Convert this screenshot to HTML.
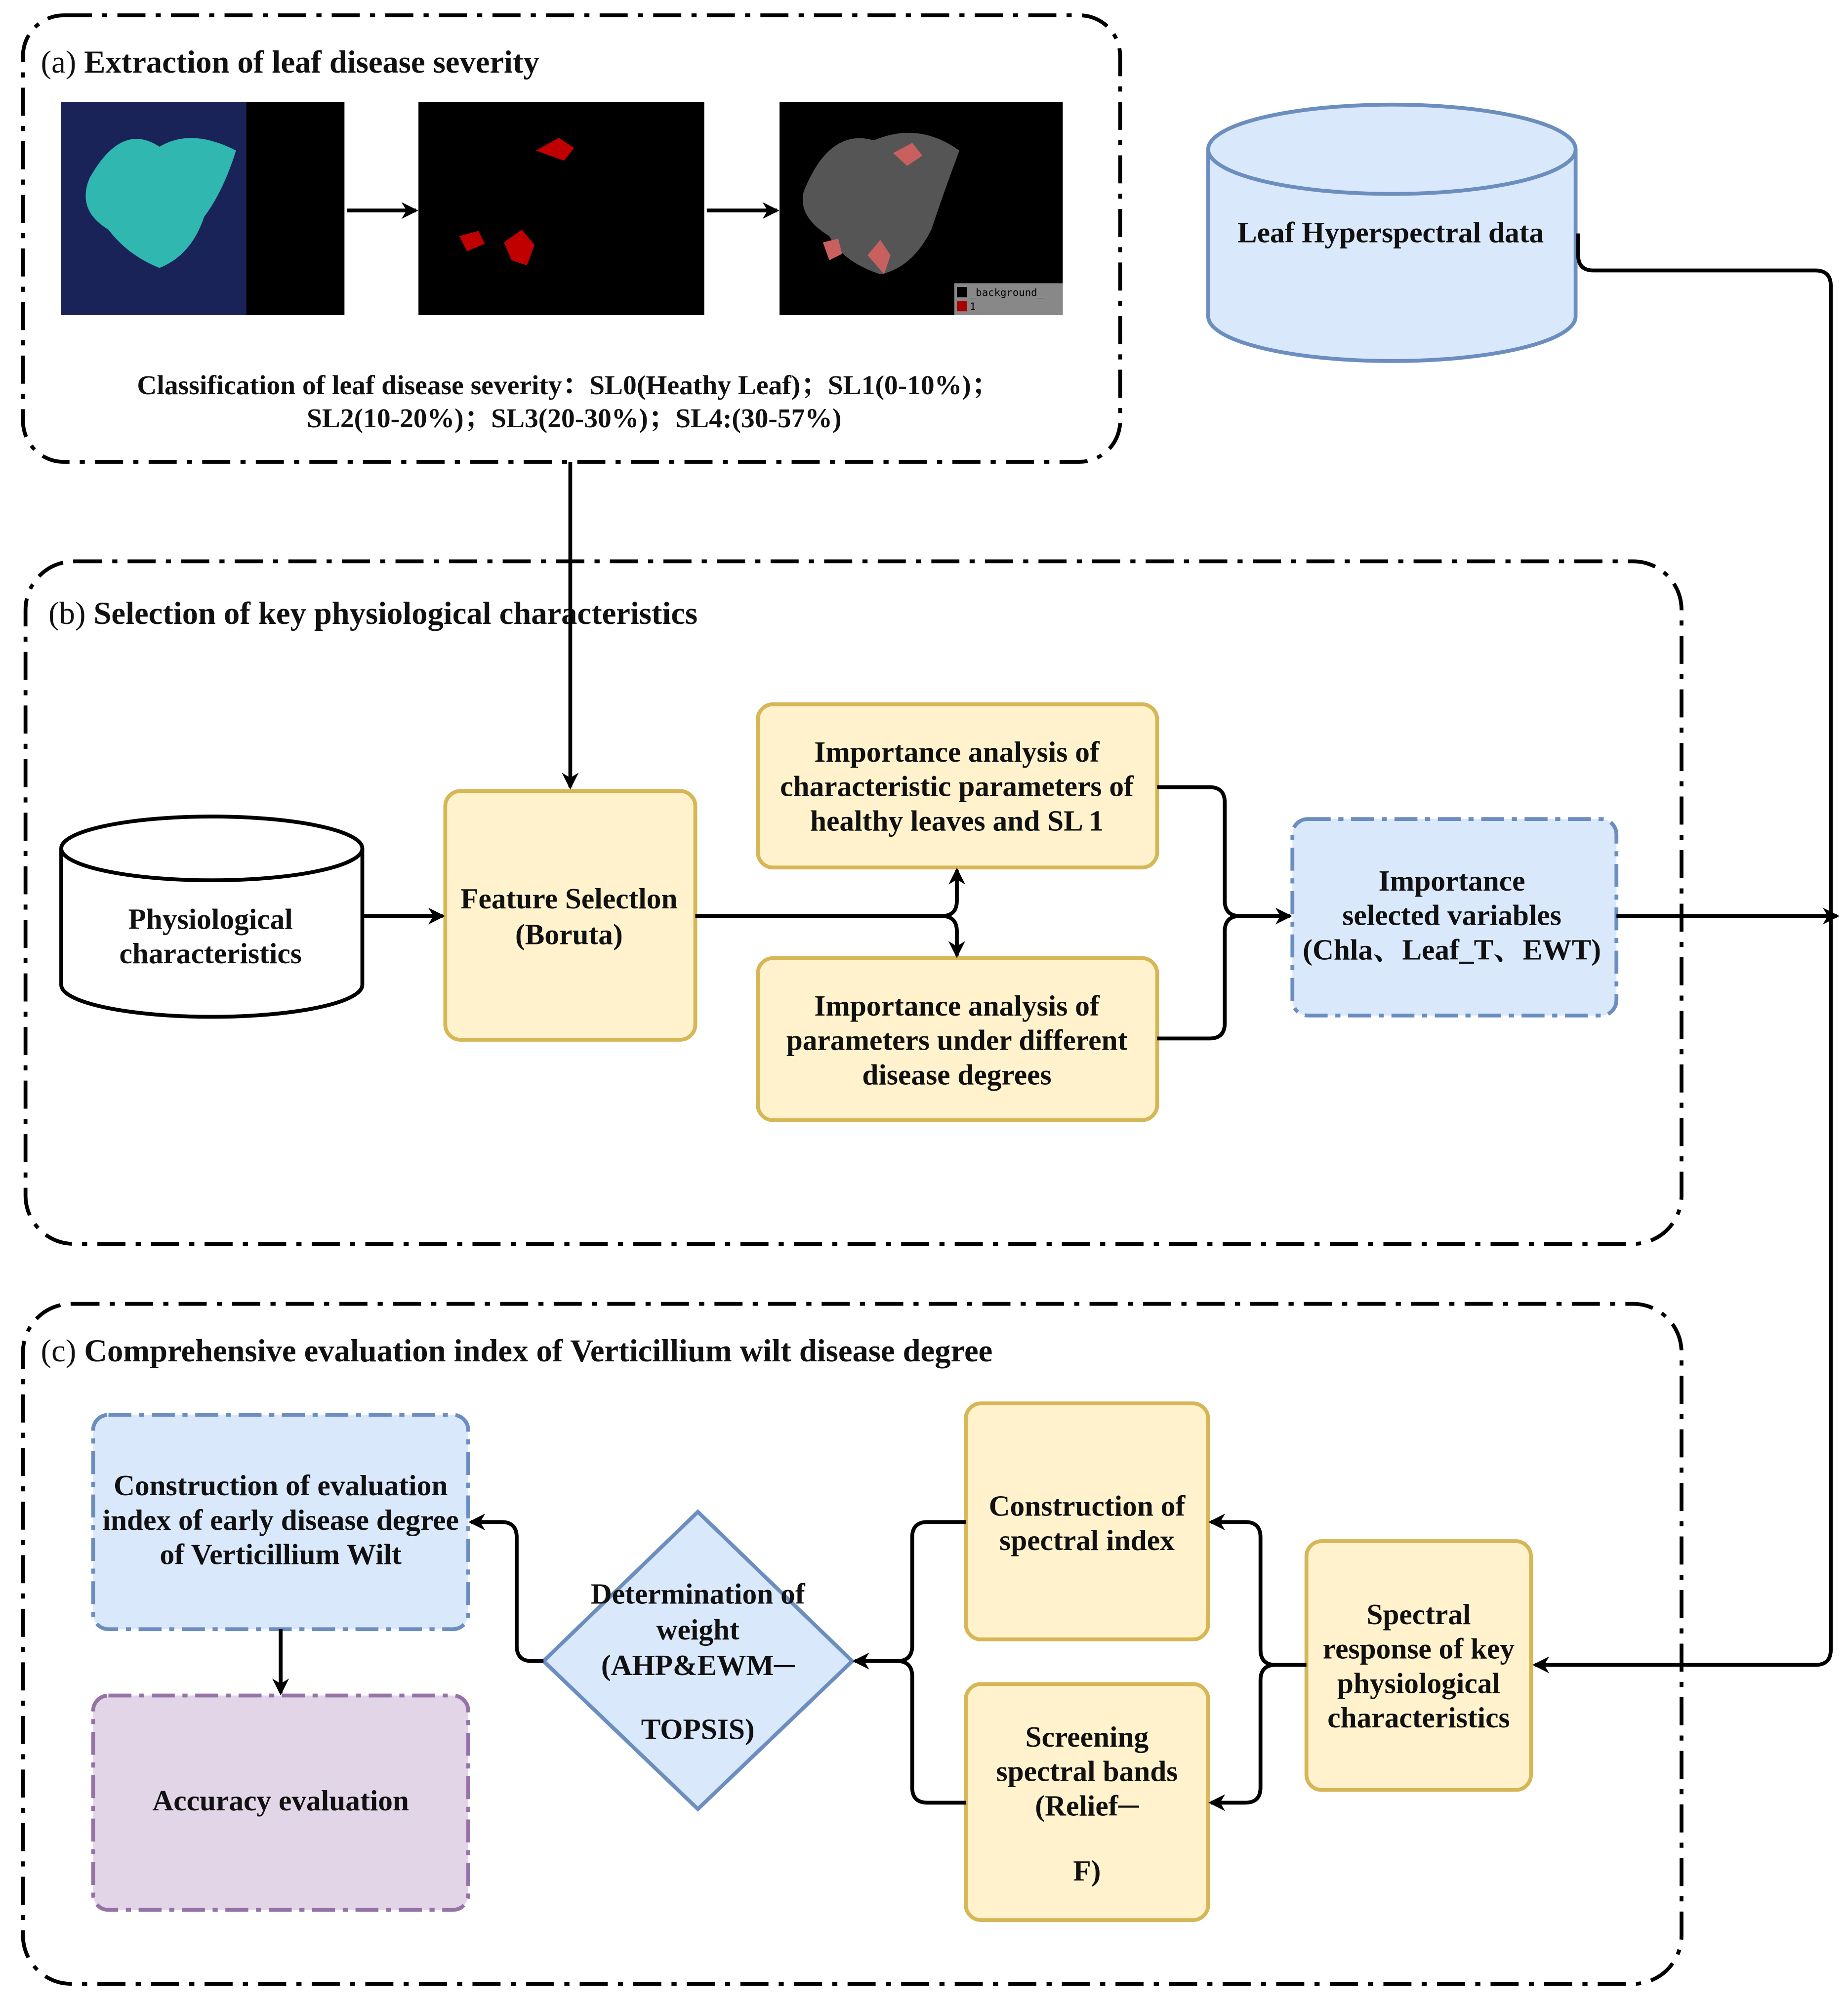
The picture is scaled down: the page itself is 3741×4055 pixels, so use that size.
<!DOCTYPE html>
<html><head><meta charset="utf-8"><style>
html,body{margin:0;padding:0;background:#fff;}
svg{display:block;}
text{font-family:"Liberation Serif","Noto Serif CJK SC",serif;font-weight:bold;fill:#111;}
.n{font-size:23px;text-anchor:middle;}
.t{font-size:25px;}
</style></head><body>
<svg width="3741" height="4055" viewBox="0 0 1448.5 1570" preserveAspectRatio="none" xmlns="http://www.w3.org/2000/svg">
<defs>
<marker id="ar" viewBox="0 0 10 10" refX="9" refY="5" markerWidth="6" markerHeight="6" orient="auto" markerUnits="userSpaceOnUse" style="overflow:visible">
<path d="M0,0 L10,5 L0,10 L3,5 Z" fill="#000" transform="scale(2.2) translate(-4.5,-2.7)"/>
</marker>
</defs>
<g fill="none" stroke="#000" stroke-width="3" stroke-dasharray="22,8,4,8">
<rect x="18" y="12" width="860" height="350" rx="32"/>
<rect x="20" y="440" width="1298" height="535" rx="38"/>
<rect x="18" y="1022" width="1300" height="533" rx="38"/>
</g>
<text class="t" x="32" y="57"><tspan font-weight="normal">(a)</tspan> Extraction of leaf disease severity</text>
<text class="t" x="38" y="489"><tspan font-weight="normal">(b)</tspan> Selection of key physiological characteristics</text>
<text class="t" x="32" y="1067"><tspan font-weight="normal">(c)</tspan> Comprehensive evaluation index of Verticillium wilt disease degree</text>

<rect x="48" y="80" width="145" height="167" fill="#1a2358"/>
<rect x="193" y="80" width="77" height="167" fill="#000"/>
<path d="M70,140 Q95,95 125,115 Q150,100 185,118 Q175,150 160,170 Q150,200 125,210 Q100,200 85,180 Q60,165 70,140Z" fill="#2fb7b0"/>
<rect x="328" y="80" width="224" height="167" fill="#000"/>
<path d="M420,118 l18,-10 l12,8 l-8,10 z M360,185 l15,-4 l5,10 l-14,6z M395,190 l14,-10 l10,12 l-6,16 l-12,-4z" fill="#c00000"/>
<rect x="611" y="80" width="222" height="167" fill="#000"/>
<path d="M630,150 Q650,100 685,110 Q720,95 752,118 Q740,150 730,180 Q715,210 690,215 Q660,205 650,185 Q625,170 630,150Z" fill="#555"/>
<path d="M700,120 l15,-8 l8,10 l-12,8z M645,190 l12,-3 l3,12 l-10,5z M680,200 l10,-12 l8,12 l-5,15z" fill="#c86060"/>
<rect x="748" y="222" width="85" height="25" fill="#888"/>
<rect x="750" y="225" width="8" height="8" fill="#000"/><rect x="750" y="236" width="8" height="8" fill="#a00"/>
<text x="760" y="232" style="font-family:'DejaVu Sans Mono',monospace;font-weight:normal;font-size:8px;fill:#000">_background_</text>
<text x="760" y="243" style="font-family:'DejaVu Sans Mono',monospace;font-weight:normal;font-size:8px;fill:#000">1</text>
<g stroke="#000" stroke-width="3" fill="none" marker-end="url(#ar)">
<line x1="272" y1="165" x2="326" y2="165"/>
<line x1="554" y1="165" x2="609" y2="165"/>
</g>
<text class="n" x="445" y="309" style="font-size:21.5px">Classification of leaf disease severity：SL0(Heathy Leaf)；SL1(0-10%)；</text>
<text class="n" x="450" y="335" style="font-size:21.5px">SL2(10-20%)；SL3(20-30%)；SL4:(30-57%)</text>

<path d="M947,117 L947,248 A144,35 0 0 0 1235,248 L1235,117" fill="#dae8fc" stroke="#6c8ebf" stroke-width="3"/>
<ellipse cx="1091" cy="117" rx="144" ry="35" fill="#dae8fc" stroke="#6c8ebf" stroke-width="3"/>
<text class="n" x="1090" y="190">Leaf Hyperspectral data</text>
<path d="M48,665 L48,772 A118,25 0 0 0 284,772 L284,665" fill="#fff" stroke="#000" stroke-width="3"/>
<ellipse cx="166" cy="665" rx="118" ry="25" fill="#fff" stroke="#000" stroke-width="3"/>
<text class="n" x="165" y="728">Physiological</text>
<text class="n" x="165" y="755">characteristics</text>

<g fill="#fff2cc" stroke="#d6b656" stroke-width="3">
<rect x="349" y="620" width="196" height="195" rx="12"/>
<rect x="594" y="552" width="313" height="128" rx="12"/>
<rect x="594" y="751" width="313" height="127" rx="12"/>
<rect x="757" y="1100" width="190" height="185" rx="12"/>
<rect x="757" y="1320" width="190" height="185" rx="12"/>
<rect x="1024" y="1208" width="176" height="195" rx="12"/>
</g>
<g fill="#dae8fc" stroke="#6c8ebf" stroke-width="3" stroke-dasharray="18,6,4,6">
<rect x="1013" y="642" width="254" height="154" rx="12"/>
<rect x="73" y="1109" width="294" height="168" rx="12"/>
</g>
<rect x="73" y="1329" width="294" height="168" rx="12" fill="#e1d5e7" stroke="#9673a6" stroke-width="3" stroke-dasharray="18,6,4,6"/>
<path d="M547,1185 L668,1302 L547,1418 L426,1302 Z" fill="#dae8fc" stroke="#6c8ebf" stroke-width="3"/>

<text class="n" x="446" y="712">Feature Selectlon</text>
<text class="n" x="446" y="740">(Boruta)</text>
<text class="n" x="750" y="597">Importance analysis of</text>
<text class="n" x="750" y="624">characteristic parameters of</text>
<text class="n" x="750" y="651">healthy leaves and SL 1</text>
<text class="n" x="750" y="796">Importance analysis of</text>
<text class="n" x="750" y="823">parameters under different</text>
<text class="n" x="750" y="850">disease degrees</text>
<text class="n" x="1138" y="698">Importance</text>
<text class="n" x="1138" y="725">selected variables</text>
<text class="n" x="1138" y="752">(Chla、Leaf_T、EWT)</text>
<text class="n" x="220" y="1172">Construction of evaluation</text>
<text class="n" x="220" y="1199">index of early disease degree</text>
<text class="n" x="220" y="1226">of Verticillium Wilt</text>
<text class="n" x="220" y="1419">Accuracy evaluation</text>
<text class="n" x="547" y="1257">Determination of</text>
<text class="n" x="547" y="1285">weight</text>
<text class="n" x="547" y="1313">(AHP&amp;EWM─</text>
<text class="n" x="547" y="1363">TOPSIS)</text>
<text class="n" x="852" y="1188">Construction of</text>
<text class="n" x="852" y="1215">spectral index</text>
<text class="n" x="852" y="1369">Screening</text>
<text class="n" x="852" y="1396">spectral bands</text>
<text class="n" x="852" y="1423">(Relief─</text>
<text class="n" x="852" y="1474">F)</text>
<text class="n" x="1112" y="1273">Spectral</text>
<text class="n" x="1112" y="1300">response of key</text>
<text class="n" x="1112" y="1327">physiological</text>
<text class="n" x="1112" y="1354">characteristics</text>

<g stroke="#000" stroke-width="3" fill="none">
<path d="M447,362 L447,617" marker-end="url(#ar)"/>
<path d="M284,718 L347,718" marker-end="url(#ar)"/>
<path d="M545,718 L738,718 Q750,718 750,706 L750,682" marker-end="url(#ar)"/>
<path d="M738,718 Q750,718 750,730 L750,749" marker-end="url(#ar)"/>
<path d="M907,617 L948,617 Q960,617 960,629 L960,706 Q960,718 972,718 L1011,718" marker-end="url(#ar)"/>
<path d="M907,814 L948,814 Q960,814 960,802 L960,730 Q960,718 972,718"/>
<path d="M1267,718 L1440,718" marker-end="url(#ar)"/>
<path d="M1237,183 L1237,200 Q1237,212 1249,212 L1423,212 Q1435,212 1435,224 L1435,1293 Q1435,1305 1423,1305 L1203,1305" marker-end="url(#ar)"/>
<path d="M1024,1305 L1000,1305 Q988,1305 988,1293 L988,1205 Q988,1193 976,1193 L949,1193" marker-end="url(#ar)"/>
<path d="M1000,1305 Q988,1305 988,1317 L988,1401 Q988,1413 976,1413 L949,1413" marker-end="url(#ar)"/>
<path d="M757,1193 L727,1193 Q715,1193 715,1205 L715,1290 Q715,1302 703,1302 L670,1302" marker-end="url(#ar)"/>
<path d="M757,1413 L727,1413 Q715,1413 715,1401 L715,1314 Q715,1302 703,1302"/>
<path d="M426,1302 L417,1302 Q405,1302 405,1290 L405,1205 Q405,1193 393,1193 L369,1193" marker-end="url(#ar)"/>
<path d="M220,1277 L220,1327" marker-end="url(#ar)"/>
</g>
</svg>
</body></html>
